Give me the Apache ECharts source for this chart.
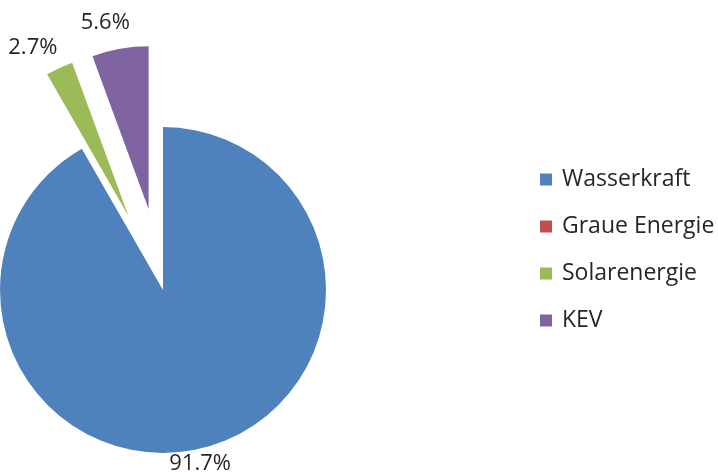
<!DOCTYPE html>
<html>
<head>
<meta charset="utf-8">
<script src="https://cdn.jsdelivr.net/npm/echarts@6/dist/echarts.min.js"></script>
<style>
    html, body { margin: 0; padding: 0; background: #fff; }
    #pieChart { width: 718px; height: 473px; }
</style>
</head>
<body>
<div id="pieChart"></div>
<script>
    // Anteile in Prozent
    const categories = ['Wasserkraft', 'Graue Energie', 'Solarenergie', 'KEV'];
    const values = [91.7, 0, 2.7, 5.6];
    const exploded = [false, false, true, true];
    const colors = ['#4f81bd', '#c0504d', '#9bbb59', '#8064a2'];
    // small label shifts so they sit like in the original
    const labelShift = [[-14, 1], [0, 0], [0, -16], [-7, -10]];

    let myChart = echarts.init(document.getElementById('pieChart'));
    myChart.setOption({
        animation: false,
        legend: {
            orient: 'vertical',
            left: 535,
            top: 163,
            icon: 'rect',
            itemWidth: 12,
            itemHeight: 12,
            itemGap: 24,
            selectedMode: false,
            data: categories,
            textStyle: {
                color: '#262626',
                fontSize: 23,
                fontFamily: 'Open Sans',
                padding: [0, 0, 0, 5]
            }
        },
        series: [
            {
                type: 'pie',
                center: [163, 290],
                radius: 163,
                startAngle: 90,
                clockwise: true,
                selectedMode: 'multiple',
                selectedOffset: 82,
                percentPrecision: 1,
                emphasis: { disabled: true },
                label: {
                    position: 'outside',
                    formatter: '{d}%',
                    color: '#262626',
                    fontSize: 22,
                    fontFamily: 'Open Sans'
                },
                labelLine: { show: false, length: 16, length2: 0 },
                labelLayout: function (params) {
                    let s = labelShift[params.dataIndex];
                    return { align: 'center', verticalAlign: 'middle', dx: s[0], dy: s[1] };
                },
                data: categories.map(function (name, i) {
                    return {
                        name: name,
                        value: values[i],
                        selected: exploded[i],
                        itemStyle: { color: colors[i] },
                        label: { show: values[i] > 0 }
                    };
                })
            }
        ]
    });
</script>
</body>
</html>
